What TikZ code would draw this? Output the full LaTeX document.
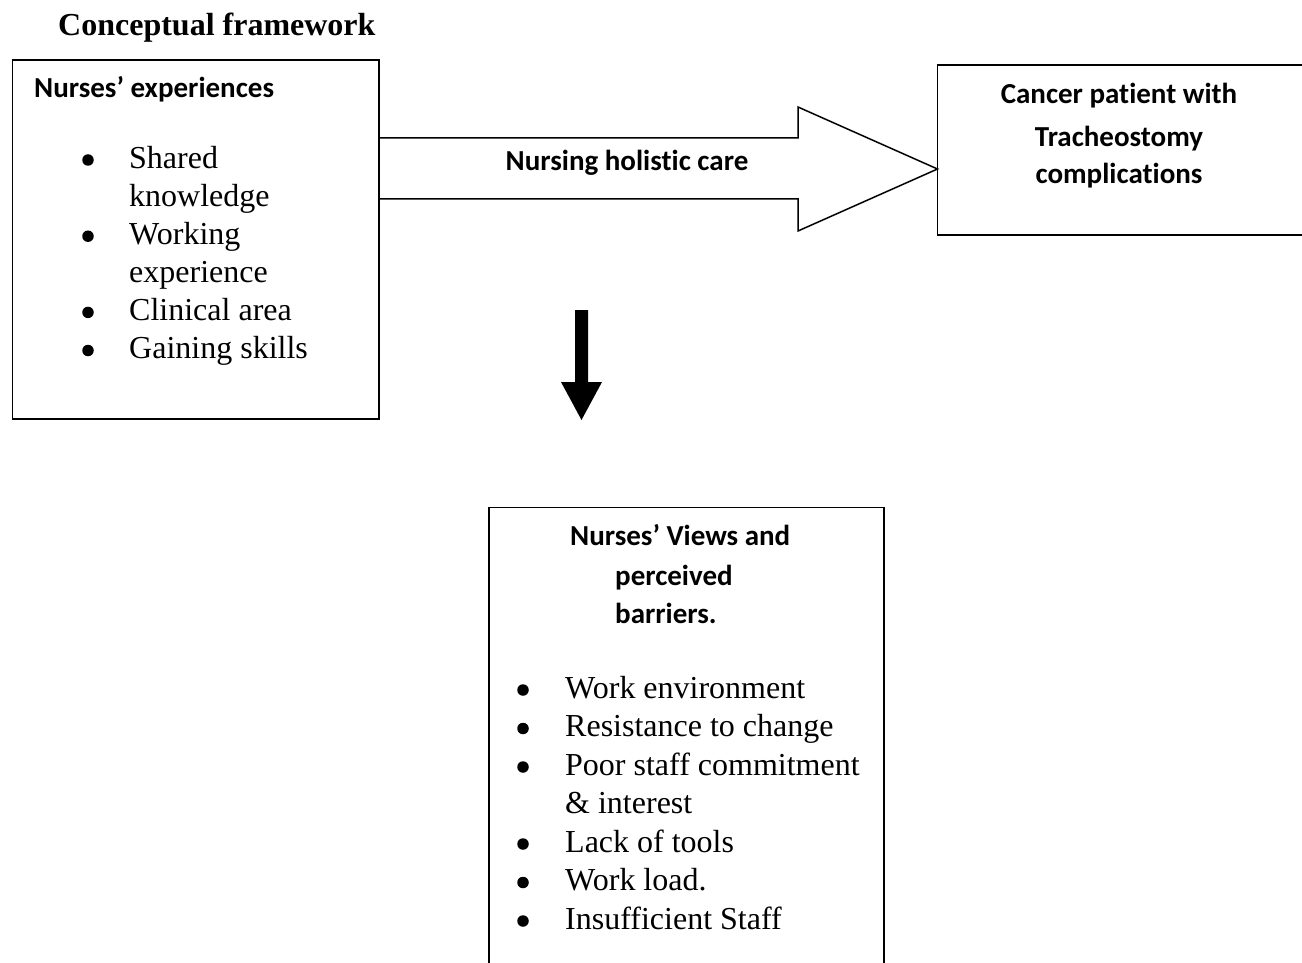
\documentclass[tikz,border=0pt]{standalone}
\usepackage{fontspec}
\setmainfont{Liberation Serif}
\newfontfamily\calib[Ligatures=NoCommon]{Carlito}
\begin{document}
\begin{tikzpicture}[x=1pt,y=-1pt,
  ser/.style={font=\fontsize{32}{38}\selectfont, inner sep=0pt, anchor=base west},
  sertitle/.style={font=\bfseries\fontsize{32}{38}\selectfont, inner sep=0pt, anchor=base west},
  hdr/.style={font=\calib\bfseries\fontsize{29}{35}\selectfont, inner sep=0pt, anchor=base west},
  hdrc/.style={font=\calib\bfseries\fontsize{29}{35}\selectfont, inner sep=0pt, anchor=base},
  frame/.style={line width=1.5pt},
  bul/.style={circle, fill=black, inner sep=0pt, minimum size=11.5pt},
  area/.style={inner sep=0pt, outer sep=0pt}]
\useasboundingbox (0,0) rectangle (1302,963);

% title
\node[sertitle] (title) at (58,36) {Conceptual framework};

% left box: nurses' experiences
\node[area, draw, frame, minimum width=366.5pt, minimum height=359pt] (exp) at (195.75,239.5) {};
\node[hdr] (exph) at (34,97.7) {Nurses’ experiences};
\node[bul] (eb1) at (88,160) {};
\node[ser] (e1a) at (129,168.3) {Shared};
\node[ser] (e1b) at (129,206.4) {knowledge};
\node[bul] (eb2) at (88,236.2) {};
\node[ser] (e2a) at (129,244.5) {Working};
\node[ser] (e2b) at (129,282.6) {experience};
\node[bul] (eb3) at (88,312.4) {};
\node[ser] (e3) at (129,320.7) {Clinical area};
\node[bul] (eb4) at (88,350.5) {};
\node[ser] (e4) at (129,358.8) {Gaining skills};

% right box: patient (open on the right)
\node[area, minimum width=364.5pt, minimum height=170pt] (pat) at (1119.75,150) {};
\draw[frame] (pat.north east) -- (pat.north west) -- (pat.south west) -- (pat.south east);
\node[hdrc] (p1) at (1119,103.3) {Cancer patient with};
\node[hdrc] (p2) at (1119,146.5) {Tracheostomy};
\node[hdrc] (p3) at (1119,183.3) {complications};

% big block arrow from exp to pat
\coordinate (s1) at (exp.east |- 0,138);
\coordinate (s2) at (798,138);
\coordinate (h1) at (798,107);
\coordinate (tip) at (pat.west |- 0,169);
\coordinate (h2) at (798,231);
\coordinate (s3) at (798,199);
\coordinate (s4) at (exp.east |- 0,199);
\draw[frame, line join=miter, fill=white] (s1) -- (s2) -- (h1) -- (tip) -- (h2) -- (s3) -- (s4) -- cycle;
\node[hdrc] (care) at (627,171) {Nursing holistic care};

% bottom box: views and barriers (open at the bottom)
\node[area, minimum width=395pt, minimum height=455.5pt] (bar) at (686.5,735.25) {};
\draw[frame] (bar.south west) -- (bar.north west) -- (bar.north east) -- (bar.south east);
\node[hdr] (bh1) at (570,545) {Nurses’ Views and};
\node[hdr] (bh2) at (615,585.5) {perceived};
\node[hdr] (bh3) at (615,623) {barriers.};
\node[bul] (bb1) at (523,690) {};
\node[ser] (b1) at (565,698) {Work environment};
\node[bul] (bb2) at (523,728.5) {};
\node[ser] (b2) at (565,736.5) {Resistance to change};
\node[bul] (bb3) at (523,767) {};
\node[ser] (b3a) at (565,775) {Poor staff commitment};
\node[ser] (b3b) at (565,813.5) {\& interest};
\node[bul] (bb4) at (523,844) {};
\node[ser] (b4) at (565,852) {Lack of tools};
\node[bul] (bb5) at (523,882.5) {};
\node[ser] (b5) at (565,890.5) {Work load.};
\node[bul] (bb6) at (523,921) {};
\node[ser] (b6) at (565,929) {Insufficient Staff};

% down arrow
\fill (575,310) -- (588,310) -- (588,382) -- (602,382) -- (581.5,420) -- (561,382) -- (575,382) -- cycle;
\end{tikzpicture}
\end{document}
